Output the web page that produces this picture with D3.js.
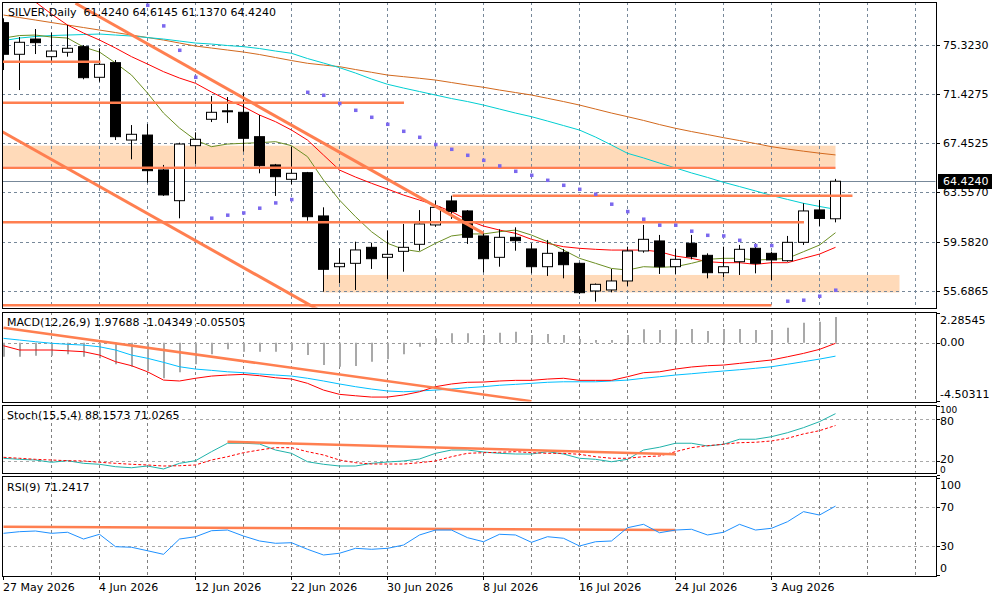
<!DOCTYPE html>
<html><head><meta charset="utf-8">
<script src="https://cdn.jsdelivr.net/npm/d3@7"></script>
<style>
html,body{margin:0;padding:0;background:#fff;}
svg{display:block;font-family:"DejaVu Sans",sans-serif;font-size:11px;}
</style></head><body>
<svg id="c" width="1000" height="600"></svg>
<script>
// ---------- DATA ----------
const dateLabels = ["27 May 2026","4 Jun 2026","12 Jun 2026","22 Jun 2026","30 Jun 2026","8 Jul 2026","16 Jul 2026","24 Jul 2026","3 Aug 2026"];
const dateLabelBars = [0,6,12,18,24,30,36,42,48];
const priceTicks = [75.3230,71.4275,67.4525,63.5570,59.5820,55.6865];
const lastPrice = 64.4240;

const open  = [77.11,74.58,75.80,74.39,74.74,75.19,72.74,73.91,67.72,68.12,65.33,62.87,67.27,69.38,70.06,69.94,67.99,65.73,64.58,65.11,61.65,57.59,57.86,59.14,58.34,58.82,59.38,60.93,62.85,62.05,60.05,58.34,59.94,59.01,57.59,58.74,57.86,55.65,55.73,56.45,58.85,59.65,57.59,59.46,58.50,57.11,57.99,59.06,58.66,58.07,59.54,62.13,61.424];
const high  = [77.46,75.96,76.60,76.31,76.92,75.32,75.06,74.12,68.92,69.00,65.73,67.51,68.34,71.24,71.16,71.51,69.72,65.81,67.19,65.17,62.34,59.06,59.59,59.51,60.47,61.01,62.12,62.87,63.27,62.12,60.26,60.58,60.74,59.46,59.73,59.01,57.91,56.25,57.41,59.19,60.93,60.13,59.01,60.13,58.66,59.19,59.33,59.46,58.79,60.05,62.66,62.93,64.6145];
const low   = [73.32,71.72,74.60,73.99,74.39,72.58,72.39,67.72,66.18,64.31,63.25,61.46,65.81,69.16,69.08,66.79,65.06,63.25,64.18,61.27,55.59,56.26,55.73,57.41,56.61,57.19,58.87,60.79,61.41,59.41,57.14,57.59,58.87,57.06,56.85,56.66,55.41,54.79,55.54,56.05,58.71,57.01,57.01,58.18,56.66,56.74,56.93,57.06,56.53,57.99,59.33,60.85,61.137];
const close = [74.58,75.54,75.51,74.84,75.06,72.71,73.78,67.99,68.18,65.27,63.33,67.40,67.78,69.94,70.02,67.86,65.67,64.79,65.06,61.59,57.38,57.86,58.93,58.23,58.58,59.14,61.01,62.34,62.00,59.94,58.23,59.94,59.67,57.59,58.66,57.75,55.51,56.18,56.45,58.85,59.78,57.59,58.18,58.39,57.11,57.59,58.98,57.86,58.13,59.54,62.05,61.45,64.424];

const maOlive = [75.88,76.08,76.12,75.96,75.88,75.16,74.76,73.88,72.92,71.48,69.88,68.68,67.72,67.19,67.40,67.46,67.51,67.59,67.27,66.39,64.52,62.92,61.59,60.39,59.46,58.98,58.79,59.46,60.05,60.21,60.21,60.39,60.52,60.12,59.59,58.92,58.26,57.86,57.45,57.32,57.59,57.54,57.59,57.86,58.18,58.26,58.26,58.12,58.18,58.26,58.79,59.32,60.31];
const maRed   = [80.36,79.56,78.76,77.80,76.92,76.28,75.72,75.08,74.39,73.80,73.19,72.68,72.26,71.56,70.92,70.39,69.72,69.19,68.52,67.72,66.52,65.32,64.76,64.26,63.80,63.32,62.92,62.52,61.99,61.32,60.84,60.52,60.26,59.78,59.46,59.19,59.06,58.98,58.92,58.92,58.92,58.79,58.44,58.26,57.99,57.91,57.91,57.78,57.91,57.91,58.26,58.60,59.14];
const maCyan  = [75.67,75.88,76.00,76.08,76.12,76.16,76.20,76.12,76.04,75.92,75.80,75.64,75.48,75.40,75.28,75.19,75.04,74.84,74.66,74.24,73.88,73.51,73.08,72.60,72.18,71.88,71.60,71.32,71.04,70.80,70.52,70.20,69.88,69.59,69.24,68.88,68.52,67.96,67.32,66.66,66.29,65.88,65.49,65.09,64.73,64.34,64.00,63.65,63.29,62.97,62.66,62.41,62.18];
const maBrown = [77.72,77.52,77.32,77.12,76.92,76.72,76.52,76.32,76.12,75.92,75.72,75.48,75.24,75.08,74.92,74.76,74.56,74.32,74.08,73.86,73.72,73.59,73.36,73.14,72.92,72.79,72.66,72.52,72.32,72.12,71.94,71.72,71.52,71.32,71.06,70.80,70.52,70.20,69.88,69.59,69.29,68.96,68.66,68.40,68.16,67.91,67.68,67.44,67.19,67.00,66.83,66.67,66.53];
const sar = [null,null,null,null,null,null,null,null,null,78.52,76.87,74.92,72.76,61.49,61.73,61.91,62.29,62.71,62.98,71.56,71.32,70.66,70.12,69.56,69.00,68.44,67.96,67.38,67.00,66.52,66.12,65.67,65.24,64.92,64.52,64.12,63.80,63.41,62.61,62.02,61.41,60.93,60.93,60.45,60.12,60.07,59.72,59.30,59.30,54.85,54.93,55.25,55.73];

const macdHist = [-1.09,-1.09,-1.01,-1.01,-0.90,-1.09,-1.21,-1.67,-1.86,-2.19,-2.75,-2.29,-1.67,-0.90,-0.52,-0.70,-0.70,-0.70,-0.57,-0.96,-1.73,-1.86,-1.81,-1.47,-1.29,-0.90,-0.32,0.33,0.72,0.72,0.59,0.76,0.84,0.59,0.66,0.59,0.28,0.20,0.20,0.59,1.03,0.97,1.03,1.05,0.90,1.05,1.05,0.97,0.97,1.15,1.54,1.61,1.97688];
const macdRed  = [-0.24,-0.57,-0.57,-0.57,-0.63,-0.70,-0.96,-1.47,-1.78,-2.25,-2.89,-2.96,-2.75,-2.58,-2.50,-2.45,-2.55,-2.71,-2.81,-3.14,-3.66,-3.99,-4.10,-4.20,-4.20,-4.04,-3.79,-3.40,-3.19,-3.06,-3.04,-2.96,-2.91,-2.91,-2.81,-2.75,-2.91,-2.91,-2.91,-2.63,-2.32,-2.25,-2.04,-1.88,-1.78,-1.73,-1.60,-1.47,-1.34,-1.09,-0.83,-0.52,-0.05505];
const macdBlue = [0.33,0.20,0.07,-0.05,-0.13,-0.19,-0.32,-0.57,-0.96,-1.21,-1.52,-1.86,-2.04,-2.14,-2.25,-2.32,-2.42,-2.50,-2.58,-2.75,-2.96,-3.19,-3.40,-3.58,-3.73,-3.79,-3.73,-3.66,-3.58,-3.48,-3.40,-3.29,-3.22,-3.14,-3.06,-3.02,-3.02,-3.02,-2.96,-2.89,-2.75,-2.63,-2.50,-2.40,-2.29,-2.19,-2.09,-1.98,-1.86,-1.67,-1.47,-1.27,-1.04349];
const macdTicks = [2.28545,0.00,-4.50311];

const stochMain = [23.5,22.0,21.0,17.7,20.0,16.2,14.8,11.3,9.8,12.3,8.0,16.2,20.0,33.1,45.3,45.3,44.2,35.5,30.7,18.5,14.8,12.3,12.3,16.2,18.1,19.6,22.5,30.7,35.5,35.5,32.6,30.7,29.7,29.7,33.1,29.7,23.5,22.0,18.5,22.0,35.5,39.5,45.3,45.3,41.3,43.8,51.1,51.1,54.8,60.6,67.9,76.6,88.1573];
const stochSig  = [24.9,23.5,22.0,21.0,20.0,19.6,17.7,16.2,14.8,13.8,12.3,12.7,13.8,21.0,25.8,31.6,35.5,38.9,38.9,33.1,28.3,21.0,17.1,15.2,15.2,15.2,17.1,19.6,25.8,30.7,31.6,32.2,33.1,31.6,30.7,30.7,29.3,25.8,23.5,23.5,25.8,26.8,33.1,38.9,41.8,43.8,46.1,46.7,48.6,52.5,58.8,63.5,71.0265];
const rsi = [43.1,44.8,45.5,43.1,44.2,37.2,42.1,29.3,28.7,25.1,21.4,37.2,39.6,45.8,46.5,40.3,35.2,32.8,33.4,26.6,20.7,22.5,27.6,26.6,27.6,31.0,41.4,46.5,46.5,38.6,34.4,42.1,41.4,33.8,39.6,38.0,30.0,34.4,35.2,48.9,52.4,43.7,46.5,47.3,41.4,44.2,52.4,46.5,48.3,55.1,65.5,62.0,71.2417];

// drawn objects (bar index / price)
const levelPrices = [73.99,70.71,65.51,61.14,63.27,54.50];
const levelFrom   = [-0.1,-0.1,-0.1,-0.1,28.06,-0.1];
const levelTo     = [6.06,25.03,52.0,50.03,53.06,48.0];
const zoneTop     = [67.27,56.93];
const zoneBottom  = [65.65,55.53];
const zoneFrom    = [-0.1,19.97];
const zoneTo      = [52.0,56.0];
const trendMain   = [[4.5,78.66,30,60.26],[-0.1,68.40,19.6,54.20]];
const trendMacd   = [0,1.15,33,-4.52];
const trendStoch  = [14,47.6,42,29.3];
const trendRsi    = [0,49.9,42,46.5];

// ---------- LAYOUT ----------
const svg = d3.select("#c");
const L = 2, R = 936;
const P = {
  main:{y0:2,y1:308},
  macd:{y0:312,y1:402},
  stoch:{y0:405,y1:473},
  rsi:{y0:476,y1:576}
};
const x  = d3.scaleLinear().domain([0,52]).range([3.5,835.5]);
const yP = d3.scaleLinear().domain([55.6865,75.3230]).range([290.5,45]);
const yM = d3.scaleLinear().domain([-4.50311,2.28545]).range([401,313]);
const yS = d3.scaleLinear().domain([20,80]).range([460.7,419.3]);
const yR = d3.scaleLinear().domain([30,70]).range([546,507.3]);

const ORANGE = "#ff7f50", PEACH = "#ffdab9";
const gridBars = d3.range(3,59,3);
const idx = d3.range(close.length);

const defs = svg.append("defs");
Object.entries(P).forEach(([k,p])=>{
  defs.append("clipPath").attr("id","clip-"+k).append("rect")
    .attr("x",L+0.5).attr("y",p.y0+0.5).attr("width",R-L-1).attr("height",p.y1-p.y0-1);
});
function layer(k){ return svg.append("g").attr("clip-path","url(#clip-"+k+")"); }

svg.append("rect").attr("width",1000).attr("height",600).attr("fill","#fff");

// ---------- MAIN PANEL ----------
const gm = layer("main");
gm.selectAll(".zone").data(zoneTop).join("rect")
  .attr("x",(d,i)=>x(zoneFrom[i])).attr("width",(d,i)=>x(zoneTo[i])-x(zoneFrom[i]))
  .attr("y",d=>yP(d)).attr("height",(d,i)=>yP(zoneBottom[i])-yP(d))
  .attr("fill",PEACH);
gm.selectAll(".gh").data(priceTicks).join("line")
  .attr("x1",L).attr("x2",R).attr("y1",d=>Math.round(yP(d))+0.5).attr("y2",d=>Math.round(yP(d))+0.5)
  .attr("stroke","#778899").attr("stroke-dasharray","3,3");
gm.selectAll(".gv").data(gridBars).join("line")
  .attr("x1",d=>Math.floor(x(d))+0.5).attr("x2",d=>Math.floor(x(d))+0.5).attr("y1",P.main.y0).attr("y2",P.main.y1)
  .attr("stroke","#778899").attr("stroke-dasharray","3,3");
gm.append("line").attr("x1",L).attr("x2",R)
  .attr("y1",Math.round(yP(lastPrice))+0.5).attr("y2",Math.round(yP(lastPrice))+0.5)
  .attr("stroke","#778899");
function drawLine(g, arr, ys, color, w, dash){
  const ln = d3.line().defined(d=>d!=null).x((d,i)=>x(i)).y(d=>ys(d));
  g.append("path").datum(arr).attr("d",ln).attr("fill","none")
    .attr("stroke",color).attr("stroke-width",w||1).attr("stroke-dasharray",dash||null);
}
drawLine(gm, maBrown, yP, "#d2691e");
drawLine(gm, maCyan, yP, "#00ced1");
drawLine(gm, maRed, yP, "#ff0000");
drawLine(gm, maOlive, yP, "#6b8e23");
const cg = gm.append("g");
cg.selectAll(".wick").data(idx).join("line")
  .attr("x1",i=>Math.floor(x(i))+0.5).attr("x2",i=>Math.floor(x(i))+0.5)
  .attr("y1",i=>yP(high[i])).attr("y2",i=>yP(low[i]))
  .attr("stroke","#000");
cg.selectAll(".body").data(idx).join("rect")
  .attr("x",i=>Math.floor(x(i))-4.5).attr("width",10)
  .attr("y",i=>yP(Math.max(open[i],close[i])))
  .attr("height",i=>Math.max(1,Math.abs(yP(open[i])-yP(close[i]))))
  .attr("fill",i=>close[i]>=open[i]?"#fff":"#000")
  .attr("stroke","#000");
gm.selectAll(".lvl").data(levelPrices).join("line")
  .attr("x1",(d,i)=>x(levelFrom[i])).attr("x2",(d,i)=>x(levelTo[i]))
  .attr("y1",d=>yP(d)).attr("y2",d=>yP(d))
  .attr("stroke",ORANGE).attr("stroke-width",2.5);
gm.selectAll(".tr").data(trendMain).join("line")
  .attr("x1",d=>x(d[0])).attr("y1",d=>yP(d[1])).attr("x2",d=>x(d[2])).attr("y2",d=>yP(d[3]))
  .attr("stroke",ORANGE).attr("stroke-width",3);
gm.selectAll(".sar").data(idx.filter(i=>sar[i]!=null)).join("rect")
  .attr("x",i=>Math.floor(x(i))-1).attr("y",i=>yP(sar[i])-1.5).attr("width",3.5).attr("height",3.5)
  .attr("fill","#7b68ee");

// ---------- MACD ----------
const gM = layer("macd");
gM.append("line").attr("x1",L).attr("x2",R).attr("y1",Math.round(yM(0))+0.5).attr("y2",Math.round(yM(0))+0.5)
  .attr("stroke","#999").attr("stroke-dasharray","3,3");
gM.selectAll(".gv").data(gridBars).join("line")
  .attr("x1",d=>Math.floor(x(d))+0.5).attr("x2",d=>Math.floor(x(d))+0.5).attr("y1",P.macd.y0).attr("y2",P.macd.y1)
  .attr("stroke","#808080").attr("stroke-dasharray","3,3");
gM.selectAll(".hist").data(idx).join("line")
  .attr("x1",i=>Math.floor(x(i))+1).attr("x2",i=>Math.floor(x(i))+1)
  .attr("y1",yM(0)).attr("y2",i=>yM(macdHist[i]))
  .attr("stroke","#a9a9a9").attr("stroke-width",2);
drawLine(gM, macdBlue, yM, "#00bfff");
drawLine(gM, macdRed, yM, "#ff0000");
gM.append("line").attr("x1",x(trendMacd[0])).attr("y1",yM(trendMacd[1])).attr("x2",x(trendMacd[2])).attr("y2",yM(trendMacd[3]))
  .attr("stroke",ORANGE).attr("stroke-width",2.5);

// ---------- STOCH ----------
const gS = layer("stoch");
gS.selectAll(".gh").data([80,20]).join("line")
  .attr("x1",L).attr("x2",R).attr("y1",d=>Math.round(yS(d))+0.5).attr("y2",d=>Math.round(yS(d))+0.5)
  .attr("stroke","#a9a9a9").attr("stroke-dasharray","3,3");
gS.selectAll(".gv").data(gridBars).join("line")
  .attr("x1",d=>Math.floor(x(d))+0.5).attr("x2",d=>Math.floor(x(d))+0.5).attr("y1",P.stoch.y0).attr("y2",P.stoch.y1)
  .attr("stroke","#808080").attr("stroke-dasharray","3,3");
drawLine(gS, stochMain, yS, "#20b2aa");
drawLine(gS, stochSig, yS, "#ff0000", 1, "3,2");
gS.append("line").attr("x1",x(trendStoch[0])).attr("y1",yS(trendStoch[1])).attr("x2",x(trendStoch[2])).attr("y2",yS(trendStoch[3]))
  .attr("stroke",ORANGE).attr("stroke-width",2.5);

// ---------- RSI ----------
const gR = layer("rsi");
gR.selectAll(".gh").data([70,30]).join("line")
  .attr("x1",L).attr("x2",R).attr("y1",d=>Math.round(yR(d))+0.5).attr("y2",d=>Math.round(yR(d))+0.5)
  .attr("stroke","#a9a9a9").attr("stroke-dasharray","3,3");
gR.selectAll(".gv").data(gridBars).join("line")
  .attr("x1",d=>Math.floor(x(d))+0.5).attr("x2",d=>Math.floor(x(d))+0.5).attr("y1",P.rsi.y0).attr("y2",P.rsi.y1)
  .attr("stroke","#808080").attr("stroke-dasharray","3,3");
gR.append("line").attr("x1",x(trendRsi[0])).attr("y1",yR(trendRsi[1])).attr("x2",x(trendRsi[2])).attr("y2",yR(trendRsi[3]))
  .attr("stroke",ORANGE).attr("stroke-width",2.5);
drawLine(gR, rsi, yR, "#1e90ff");

// ---------- FRAMES ----------
Object.values(P).forEach(p=>{
  svg.append("rect").attr("x",L+0.5).attr("y",p.y0+0.5).attr("width",R-L).attr("height",p.y1-p.y0)
    .attr("fill","none").attr("stroke","#000");
});

// ---------- TEXT ----------
function txt(s,xx,yy,opt){
  opt=opt||{};
  const t = svg.append("text").attr("x",xx).attr("y",yy).attr("dominant-baseline","central")
    .attr("fill",opt.fill||"#000").text(s);
  if(opt.size) t.style("font-size",opt.size+"px");
  return t;
}
txt("SILVER,Daily  61.4240 64.6145 61.1370 64.4240",8,12.5).attr("xml:space","preserve").style("white-space","pre");
txt("MACD(12,26,9) 1.97688 -1.04349 -0.05505",7,322.5);
txt("Stoch(15,5,4) 88.1573 71.0265",7,415.5);
txt("RSI(9) 71.2417",7,487.5);

priceTicks.forEach(v=>{
  const yy=Math.round(yP(v))+0.5;
  svg.append("line").attr("x1",R+1).attr("x2",R+4).attr("y1",yy).attr("y2",yy).attr("stroke","#000");
  txt(v.toFixed(4),943,yy);
});
const ly = Math.round(yP(lastPrice));
svg.append("rect").attr("x",938).attr("y",ly-7).attr("width",54).attr("height",15).attr("fill","#000");
txt(lastPrice.toFixed(4),943,ly+0.5,{fill:"#fff"});

const macdLabelY = [320,342.5,394];
macdTicks.forEach((v,i)=>{
  svg.append("line").attr("x1",R+1).attr("x2",R+4).attr("y1",Math.round(yM(v))+0.5).attr("y2",Math.round(yM(v))+0.5).attr("stroke","#000");
  txt(v===0?"0.00":v.toFixed(5),940,macdLabelY[i]);
});
// stoch axis (max/min labels kept small so they sit beside 80/20)
[[100,410,9],[80,421,11],[20,459.5,11],[0,469.5,9]].forEach(([v,yy,fs])=>{
  svg.append("line").attr("x1",R+1).attr("x2",R+4).attr("y1",Math.round(yS(v))+0.5).attr("y2",Math.round(yS(v))+0.5).attr("stroke","#000");
  txt(String(v),940,yy,{size:fs});
});
[[100,485],[70,507.5],[30,546],[0,568]].forEach(([v,yy])=>{
  svg.append("line").attr("x1",R+1).attr("x2",R+4).attr("y1",Math.round(yR(v))+0.5).attr("y2",Math.round(yR(v))+0.5).attr("stroke","#000");
  txt(String(v),940,yy);
});
dateLabelBars.forEach((b,i)=>{
  const xx=Math.floor(x(b))+0.5;
  svg.append("line").attr("x1",xx).attr("x2",xx).attr("y1",P.rsi.y1).attr("y2",P.rsi.y1+4).attr("stroke","#000");
  txt(dateLabels[i],Math.floor(x(b)),587);
});
</script>
</body></html>
